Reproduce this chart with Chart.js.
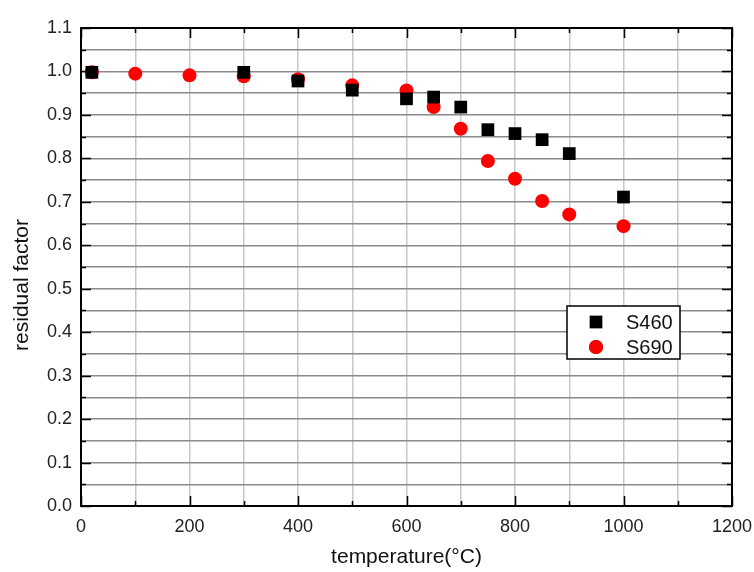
<!DOCTYPE html>
<html>
<head>
<meta charset="utf-8">
<script src="https://cdn.jsdelivr.net/npm/chart.js@4.4.0/dist/chart.umd.min.js"></script>
<style>
  body { margin: 0; background: #fff; }
</style>
</head>
<body>
<canvas id="chart" width="754" height="572"></canvas>
<script>
// temperatures (°C) and residual factors
var tempS460 = [20, 300, 400, 500, 600, 650, 700, 750, 800, 850, 900, 1000];
var resS460  = [0.998, 0.998, 0.978, 0.957, 0.937, 0.941, 0.918, 0.866, 0.857, 0.843, 0.811, 0.711];
var tempS690 = [20, 100, 200, 300, 400, 500, 600, 650, 700, 750, 800, 850, 900, 1000];
var resS690  = [0.998, 0.995, 0.991, 0.989, 0.982, 0.968, 0.956, 0.918, 0.868, 0.794, 0.753, 0.702, 0.671, 0.644];
var seriesNames = ["S460", "S690"];
var yTitle = "residual factor";
var xTitle = "temperature(°C)";

function toPoints(xs, ys) {
    return xs.map(function (x, i) { return { x: x, y: ys[i] }; });
}

var FONT = "'Liberation Sans', Arial, sans-serif";

// black frame plus the little inward tick marks on all four sides
var framePlugin = {
    id: 'frame',
    beforeDatasetsDraw: function (chart) {
        var ctx = chart.ctx, a = chart.chartArea;
        var xs = chart.scales.x, ys = chart.scales.y;
        ctx.save();
        ctx.strokeStyle = '#000';
        ctx.lineWidth = 1.5;
        ctx.beginPath();
        for (var v = 0; v <= 1.1001; v += 0.05) {
            var py = Math.round(ys.getPixelForValue(v)) + 0.5;
            var len = (Math.round(v * 100) % 10 === 0) ? 10 : 5;
            ctx.moveTo(a.left, py); ctx.lineTo(a.left + len, py);
            ctx.moveTo(a.right, py); ctx.lineTo(a.right - len, py);
        }
        for (var t = 0; t <= 1200; t += 100) {
            var px = Math.round(xs.getPixelForValue(t)) + 0.5;
            var l2 = (t % 200 === 0) ? 10 : 5;
            ctx.moveTo(px, a.bottom); ctx.lineTo(px, a.bottom - l2);
            ctx.moveTo(px, a.top); ctx.lineTo(px, a.top + l2);
        }
        ctx.stroke();
        ctx.lineWidth = 2;
        ctx.strokeRect(a.left, a.top, a.right - a.left, a.bottom - a.top);

        // y title sits a bit below the middle in the original
        ctx.save();
        ctx.translate(22, 285);
        ctx.rotate(-Math.PI / 2);
        ctx.font = '21px ' + FONT;
        ctx.fillStyle = '#111';
        ctx.textAlign = 'center';
        ctx.textBaseline = 'middle';
        ctx.fillText(yTitle, 0, 0);
        ctx.restore();
        ctx.restore();
    },
    afterDraw: function (chart) {
        // legend box inside the plot
        var ctx = chart.ctx;
        var bx = 567, by = 306, bw = 113, bh = 53;
        ctx.save();
        ctx.fillStyle = '#fff';
        ctx.fillRect(bx, by, bw, bh);
        ctx.strokeStyle = '#000';
        ctx.lineWidth = 1.5;
        ctx.strokeRect(bx, by, bw, bh);
        ctx.font = '20px ' + FONT;
        ctx.textBaseline = 'middle';
        chart.data.datasets.forEach(function (ds, i) {
            var cy = by + 16 + i * 25;
            Chart.helpers.drawPoint(ctx, {
                pointStyle: ds.pointStyle,
                radius: ds.pointRadius,
                rotation: 0,
                borderWidth: 0
            }, bx + 29, cy);
            ctx.fillStyle = ds.backgroundColor;
            ctx.fill();
            ctx.fillStyle = '#111';
            ctx.fillText(ds.label, bx + 59, cy + 1);
        });
        ctx.restore();
    }
};

new Chart(document.getElementById('chart').getContext('2d'), {
    type: 'scatter',
    data: {
        datasets: [{
            label: seriesNames[0],
            data: toPoints(tempS460, resS460),
            pointStyle: 'rect',
            pointRadius: 9,
            backgroundColor: '#000',
            borderColor: '#000',
            borderWidth: 0
        }, {
            label: seriesNames[1],
            data: toPoints(tempS690, resS690),
            pointStyle: 'circle',
            pointRadius: 7,
            backgroundColor: '#ff0000',
            borderColor: '#ff0000',
            borderWidth: 0
        }]
    },
    options: {
        responsive: false,
        animation: false,
        layout: { padding: { top: 28, right: 22, left: 0, bottom: 0 } },
        plugins: {
            legend: { display: false },
            tooltip: { enabled: false }
        },
        scales: {
            x: {
                type: 'linear',
                min: 0, max: 1200,
                ticks: {
                    stepSize: 100,
                    autoSkip: false,
                    maxRotation: 0,
                    padding: 10,
                    color: '#222',
                    font: { family: FONT, size: 18 },
                    callback: function (v) { return v % 200 === 0 ? v : ''; }
                },
                grid: { color: '#c8c8c8', lineWidth: 1.5, drawTicks: false },
                border: { display: false },
                title: {
                    display: true,
                    text: xTitle,
                    color: '#111',
                    font: { family: FONT, size: 21 },
                    padding: { top: 4, bottom: 2 }
                },
                afterFit: function (s) {
                    s.height = 66;
                    s.paddingLeft = 0;
                    s.paddingRight = 0;
                }
            },
            y: {
                min: 0, max: 1.1,
                ticks: {
                    stepSize: 0.05,
                    autoSkip: false,
                    padding: 9,
                    color: '#222',
                    font: { family: FONT, size: 18 },
                    callback: function (v) {
                        var r = Math.round(v * 100);
                        return r % 10 === 0 ? (r / 100).toFixed(1) : '';
                    }
                },
                grid: { color: '#8a8a8a', lineWidth: 1.5, drawTicks: false },
                border: { display: false },
                afterFit: function (s) {
                    s.width = 81;
                    s.paddingTop = 0;
                    s.paddingBottom = 0;
                }
            }
        }
    },
    plugins: [framePlugin]
});
</script>
</body>
</html>
